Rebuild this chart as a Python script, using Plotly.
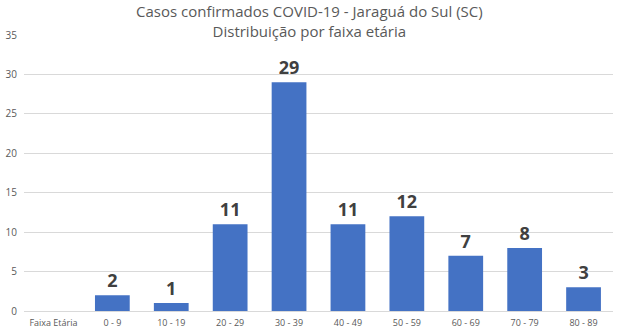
import plotly.graph_objects as go

categorias = ["Faixa Etária", "0 - 9", "10 - 19", "20 - 29", "30 - 39", "40 - 49",
              "50 - 59", "60 - 69", "70 - 79", "80 - 89"]
casos = [None, 2, 1, 11, 29, 11, 12, 7, 8, 3]
rotulos = ["" if v is None else str(v) for v in casos]
y_ticks = [0, 5, 10, 15, 20, 25, 30, 35]
titulo = "Casos confirmados COVID-19 - Jaraguá do Sul (SC)<br>Distribuição por faixa etária"

fig = go.Figure(go.Bar(
    x=categorias, y=casos,
    marker=dict(color="#4472C4", line=dict(width=0)),
    text=rotulos, textposition="outside", cliponaxis=False,
    textfont=dict(family="Open Sans", size=18, color="#404040", weight="bold"),
))

fig.add_annotation(
    text=titulo, xref="paper", yref="paper", x=0.485, y=1.0, yshift=35,
    xanchor="center", yanchor="top", showarrow=False, borderpad=0,
    font=dict(family="Open Sans", size=15, color="#595959"),
)

fig.update_layout(
    width=618, height=330,
    margin=dict(l=24, r=5, t=35, b=19),
    paper_bgcolor="white", plot_bgcolor="white",
    bargap=0.41,
    showlegend=False,
    font=dict(family="Open Sans", color="#595959"),
    xaxis=dict(
        type="category", showgrid=False, showline=True, linecolor="#D9D9D9", linewidth=1,
        ticks="", tickfont=dict(size=9, color="#595959"), ticklabelstandoff=3,
        automargin=False,
    ),
    yaxis=dict(
        range=[0, 35], tickvals=y_ticks, showgrid=True, gridcolor="#D9D9D9", gridwidth=1,
        zeroline=False, ticks="", tickfont=dict(size=10, color="#595959"),
        ticklabelstandoff=6, automargin=False,
    ),
)

fig.write_html("out.html")
